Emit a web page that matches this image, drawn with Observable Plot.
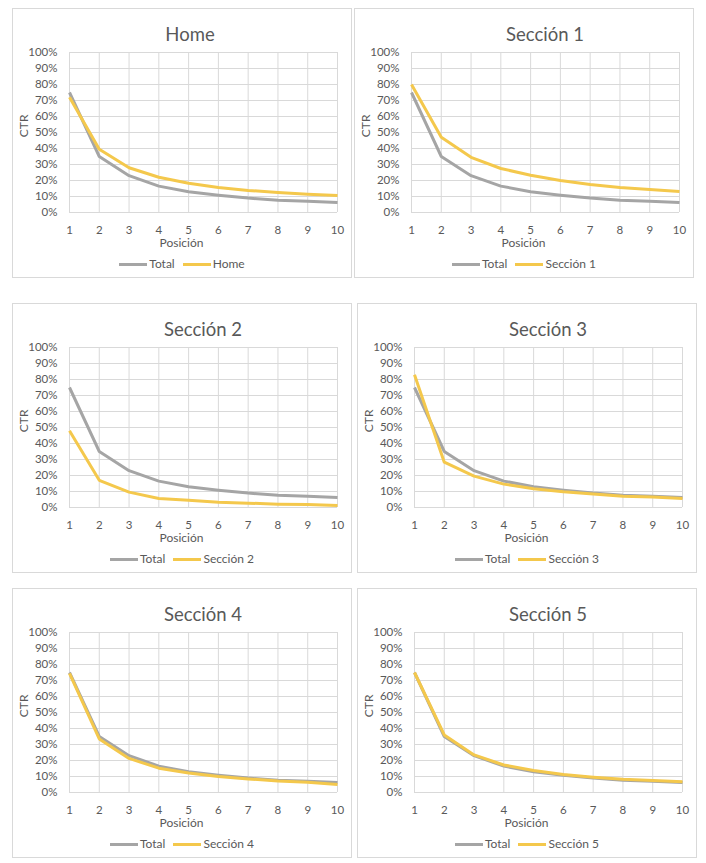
<!DOCTYPE html>
<html>
<head>
<meta charset="utf-8">
<script src="https://cdn.jsdelivr.net/npm/d3@7"></script>
<script src="https://cdn.jsdelivr.net/npm/@observablehq/plot@0.6"></script>
<style>
  html, body { margin: 0; padding: 0; background: #ffffff; }
  #root { position: relative; width: 706px; height: 863px; font-family: Lato, "Open Sans", sans-serif; color: #595959; }
  .panel { position: absolute; width: 340px; height: 270px; box-sizing: border-box; border: 1px solid #d9d9d9; background: #fff; }
  .panel svg { position: absolute; left: 0; top: 36px; }
  .title { position: absolute; top: 13.8px; height: 22px; line-height: 22px; font-size: 18.5px; text-align: center; white-space: nowrap; color: #595959; }
  .legend { position: absolute; left: 0; width: 338px; top: 246px; height: 18px; display: flex; justify-content: center; align-items: center; gap: 8px; font-size: 12px; line-height: 18px; white-space: nowrap; }
  .legend .item { display: flex; align-items: center; gap: 2px; }
  .legend .sw { width: 28px; height: 3px; }
</style>
</head>
<body>
<div id="root"></div>
<script>
// ---- data (CTR as fractions) ----
const positions = [1, 2, 3, 4, 5, 6, 7, 8, 9, 10];
const yTicks = [0, 0.1, 0.2, 0.3, 0.4, 0.5, 0.6, 0.7, 0.8, 0.9, 1];
const seriesNames = ["Home", "Sección 1", "Sección 2", "Sección 3", "Sección 4", "Sección 5"];
const totalLabel = "Total";
const xLabel = "Posición";
const yLabel = "CTR";

const total     = [0.75, 0.35, 0.23, 0.165, 0.13, 0.108, 0.09, 0.077, 0.07, 0.062];
const home      = [0.72, 0.395, 0.28, 0.22, 0.183, 0.156, 0.138, 0.125, 0.114, 0.106];
const seccion1  = [0.80, 0.47, 0.345, 0.275, 0.233, 0.20, 0.175, 0.156, 0.144, 0.131];
const seccion2  = [0.48, 0.17, 0.096, 0.056, 0.045, 0.033, 0.027, 0.021, 0.019, 0.013];
const seccion3  = [0.83, 0.283, 0.196, 0.146, 0.117, 0.098, 0.085, 0.071, 0.065, 0.056];
const seccion4  = [0.745, 0.335, 0.213, 0.152, 0.122, 0.10, 0.085, 0.072, 0.064, 0.05];
const seccion5  = [0.75, 0.36, 0.235, 0.172, 0.138, 0.113, 0.096, 0.083, 0.075, 0.067];
const seriesValues = [home, seccion1, seccion2, seccion3, seccion4, seccion5];

// ---- layout / style ----
const GRAY = "#a5a5a5";
const YELLOW = "#f4c84c";
const GRID = "#d9d9d9";
const FONT = "Lato, 'Open Sans', sans-serif";
const layout = [
  {left: 12,  top: 8,   titleShift: -13},
  {left: 354, top: 8,   titleShift: 0},
  {left: 12,  top: 303, titleShift: 0},
  {left: 357, top: 303, titleShift: 0},
  {left: 12,  top: 588, titleShift: 0},
  {left: 357, top: 588, titleShift: 0}
];
const M = {top: 7, right: 14, bottom: 43, left: 56};
const W = 338, H = 210;

const root = document.getElementById("root");
const pct = d3.format(".0%");

seriesNames.forEach((name, k) => {
  const L = layout[k];
  const vals = seriesValues[k];
  const totalData = positions.map((p, i) => ({pos: p, ctr: total[i]}));
  const secData = positions.map((p, i) => ({pos: p, ctr: vals[i]}));

  const panel = document.createElement("div");
  panel.className = "panel";
  panel.style.left = L.left + "px";
  panel.style.top = L.top + "px";

  const title = document.createElement("div");
  title.className = "title";
  title.style.left = (M.left + L.titleShift) + "px";
  title.style.width = (W - M.left - M.right) + "px";
  title.textContent = name;
  panel.appendChild(title);

  const svg = Plot.plot({
    width: W,
    height: H,
    marginTop: M.top,
    marginRight: M.right,
    marginBottom: M.bottom,
    marginLeft: M.left,
    style: {background: "transparent", color: "#595959", fontFamily: FONT, fontSize: "11.5px", overflow: "visible"},
    x: {type: "linear", domain: [1, 10], label: null},
    y: {type: "linear", domain: [0, 1], label: null},
    marks: [
      Plot.gridX(positions, {stroke: GRID, strokeOpacity: 1, strokeWidth: 1}),
      Plot.gridY(yTicks, {stroke: GRID, strokeOpacity: 1, strokeWidth: 1}),
      Plot.axisX(positions, {tickSize: 0, tickPadding: 13, label: null, tickFormat: d3.format("d")}),
      Plot.axisY(yTicks, {tickSize: 0, tickPadding: 12, label: null, tickFormat: pct}),
      Plot.lineY(totalData, {x: "pos", y: "ctr", stroke: GRAY, strokeWidth: 3, strokeLinejoin: "round", strokeLinecap: "butt"}),
      Plot.lineY(secData, {x: "pos", y: "ctr", stroke: YELLOW, strokeWidth: 3, strokeLinejoin: "round", strokeLinecap: "butt"}),
      Plot.text([xLabel], {text: d => d, frameAnchor: "bottom", dy: 31, dx: -22, fontSize: 12, lineAnchor: "middle"}),
      Plot.text([yLabel], {text: d => d, frameAnchor: "left", rotate: -90, dx: -45.5, dy: 4.7, fontSize: 12, lineAnchor: "middle"})
    ]
  });
  panel.appendChild(svg);

  const legend = document.createElement("div");
  legend.className = "legend";
  [[totalLabel, GRAY], [name, YELLOW]].forEach(([lab, col]) => {
    const item = document.createElement("div");
    item.className = "item";
    const sw = document.createElement("span");
    sw.className = "sw";
    sw.style.background = col;
    const tx = document.createElement("span");
    tx.textContent = lab;
    item.appendChild(sw);
    item.appendChild(tx);
    legend.appendChild(item);
  });
  panel.appendChild(legend);

  root.appendChild(panel);
});
</script>
</body>
</html>
